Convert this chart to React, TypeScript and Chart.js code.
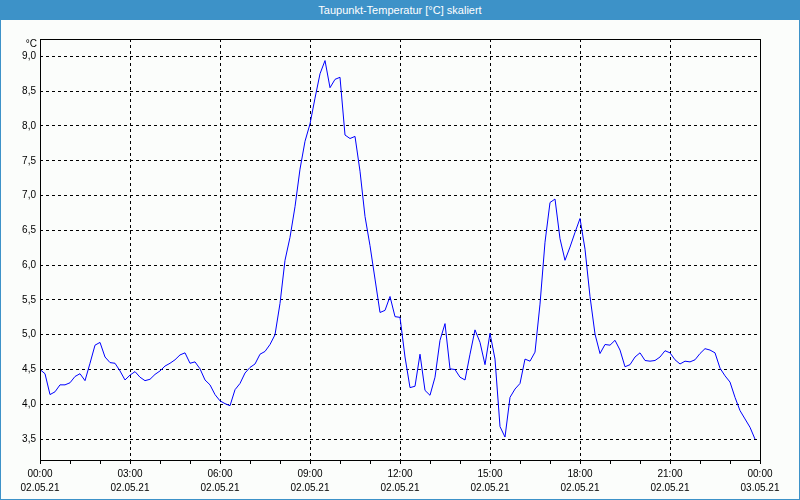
import React, { useEffect, useRef } from 'react';
import { Chart, registerables } from 'chart.js';

Chart.register(...registerables);

const TITLE = 'Taupunkt-Temperatur [°C] skaliert';
const UNIT = '°C';
const SAMPLE_MINUTES = 10;

// dew point, one value every 10 minutes from 02.05.21 00:00 to 23:50
const dewPoint: number[] = [
  4.50, 4.44, 4.14, 4.18, 4.28, 4.28, 4.31, 4.40, 4.44, 4.34, 4.59, 4.85,
  4.89, 4.68, 4.60, 4.59, 4.48, 4.35, 4.42, 4.47, 4.39, 4.34, 4.36, 4.43,
  4.48, 4.55, 4.59, 4.64, 4.71, 4.74, 4.59, 4.61, 4.51, 4.35, 4.28, 4.14,
  4.05, 4.01, 3.98, 4.21, 4.30, 4.45, 4.53, 4.58, 4.72, 4.76, 4.86, 5.00,
  5.45, 6.07, 6.40, 6.84, 7.38, 7.78, 8.03, 8.40, 8.75, 8.94, 8.55, 8.67,
  8.70, 7.87, 7.82, 7.85, 7.35, 6.70, 6.28, 5.80, 5.32, 5.35, 5.55, 5.26,
  5.25, 4.68, 4.24, 4.26, 4.72, 4.20, 4.13, 4.39, 4.92, 5.16, 4.51, 4.50,
  4.39, 4.35, 4.72, 5.07, 4.89, 4.57, 5.02, 4.65, 3.68, 3.53, 4.10, 4.22,
  4.30, 4.65, 4.62, 4.75, 5.44, 6.33, 6.90, 6.95, 6.38, 6.07, 6.26, 6.47,
  6.67, 6.23, 5.55, 5.01, 4.73, 4.86, 4.85, 4.92, 4.78, 4.54, 4.57, 4.68,
  4.74, 4.63, 4.62, 4.63, 4.68, 4.77, 4.74, 4.64, 4.58, 4.62, 4.61, 4.64,
  4.73, 4.80, 4.78, 4.74, 4.52, 4.41, 4.32, 4.10, 3.91, 3.79, 3.67, 3.50,
];

const yTicks: number[] = [3.5, 4.0, 4.5, 5.0, 5.5, 6.0, 6.5, 7.0, 7.5, 8.0, 8.5, 9.0];
const xTickTimes: string[] = ['00:00', '03:00', '06:00', '09:00', '12:00', '15:00', '18:00', '21:00', '00:00'];
const xTickDates: string[] = ['02.05.21', '02.05.21', '02.05.21', '02.05.21', '02.05.21', '02.05.21', '02.05.21', '02.05.21', '03.05.21'];

const BLUE = '#3d92c8';
const BG = '#fbfdfb';
const FONT = '"Liberation Sans", Arial, sans-serif';

export default function App() {
  const ref = useRef<HTMLCanvasElement>(null);

  useEffect(() => {
    document.body.style.margin = '0';
    if (!ref.current) return;

    const framePlugin = {
      id: 'frame',
      beforeDraw(chart: any) {
        const { ctx } = chart;
        ctx.save();
        ctx.fillStyle = BG;
        ctx.fillRect(0, 0, chart.width, chart.height);
        ctx.restore();
      },
      afterDraw(chart: any) {
        const { ctx, chartArea: a } = chart;
        ctx.save();
        ctx.setLineDash([]);
        ctx.strokeStyle = '#000';
        ctx.lineWidth = 1;
        ctx.strokeRect(a.left + 0.5, a.top + 0.5, a.right - a.left, a.bottom - a.top);
        ctx.font = '10px ' + FONT;
        ctx.fillStyle = '#000';
        ctx.textAlign = 'right';
        ctx.textBaseline = 'middle';
        ctx.fillText(UNIT, a.left - 3, a.top + 5);
        ctx.restore();
      },
    };

    const chart = new Chart(ref.current, {
      type: 'line',
      data: {
        datasets: [
          {
            data: dewPoint.map((v, i) => ({ x: (i * SAMPLE_MINUTES) / 60, y: v })),
            borderColor: '#0000ff',
            borderWidth: 1,
            pointRadius: 0,
            fill: false,
            tension: 0,
          },
        ],
      },
      options: {
        animation: false,
        responsive: false,
        devicePixelRatio: 1,
        layout: { padding: { left: 0, top: 39, right: 40, bottom: 0 } },
        plugins: {
          legend: { display: false },
          title: { display: false },
          tooltip: { enabled: false },
        },
        scales: {
          x: {
            type: 'linear',
            min: 0,
            max: 24,
            afterFit: (s: any) => {
              s.height = 40;
            },
            ticks: {
              stepSize: 1,
              autoSkip: false,
              maxRotation: 0,
              minRotation: 0,
              padding: 3,
              color: '#000',
              font: { family: FONT, size: 10, lineHeight: 1.4 },
              callback: (v: any) => {
                const n = Number(v);
                if (n % 3 !== 0) return '';
                const k = n / 3;
                return [xTickTimes[k], xTickDates[k]];
              },
            },
            grid: {
              color: (c: any) => {
                const v = c.tick ? c.tick.value : -1;
                return v % 3 === 0 && v > 0 && v < 24 ? '#000' : 'rgba(0,0,0,0)';
              },
              lineWidth: 1,
              drawTicks: true,
              tickLength: 4,
              tickColor: '#000',
              tickWidth: 1,
              tickBorderDash: [],
            },
            border: { display: false, dash: [3, 3] },
          },
          y: {
            min: 3.2,
            max: 9.25,
            afterFit: (s: any) => {
              s.width = 40;
            },
            afterBuildTicks: (s: any) => {
              s.ticks = yTicks.map((v) => ({ value: v }));
            },
            ticks: {
              padding: 4,
              color: '#000',
              font: { family: FONT, size: 10 },
              callback: (v: any) => Number(v).toFixed(1).replace('.', ','),
            },
            grid: { color: '#000', lineWidth: 1, drawTicks: false },
            border: { display: false, dash: [3, 3] },
          },
        },
      },
      plugins: [framePlugin],
    } as any);

    return () => chart.destroy();
  }, []);

  return (
    <div style={{ position: 'relative', width: 800, height: 500, overflow: 'hidden' }}>
      <canvas ref={ref} width={800} height={500} style={{ position: 'absolute', left: 0, top: 0, width: 800, height: 500 }} />
      <div
        style={{
          position: 'absolute',
          left: 0,
          top: 0,
          width: 800,
          height: 500,
          boxSizing: 'border-box',
          borderLeft: `1px solid ${BLUE}`,
          borderRight: `1px solid ${BLUE}`,
          borderBottom: `1px solid ${BLUE}`,
          pointerEvents: 'none',
        }}
      />
      <div
        style={{
          position: 'absolute',
          left: 0,
          top: 0,
          width: 800,
          height: 20,
          background: BLUE,
          color: '#fff',
          fontFamily: FONT,
          fontSize: 11,
          lineHeight: '20px',
          textAlign: 'center',
        }}
      >
        {TITLE}
      </div>
    </div>
  );
}
